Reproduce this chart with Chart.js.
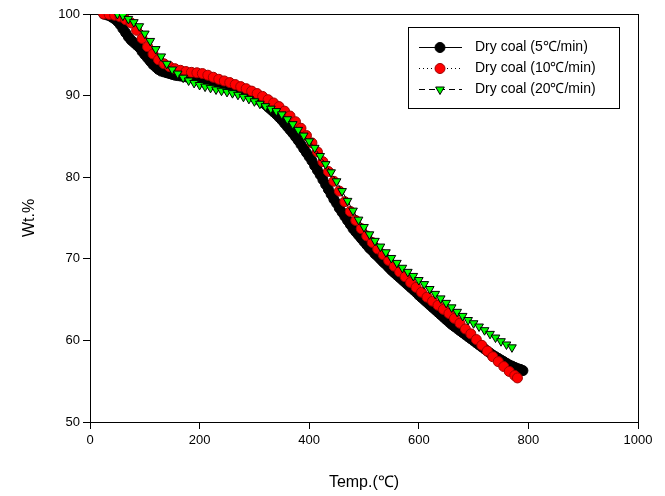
<!DOCTYPE html>
<html>
<head>
<meta charset="utf-8">
<script src="https://cdn.jsdelivr.net/npm/chart.js@4"></script>
<style>
  html, body { margin: 0; padding: 0; background: #fff; }
  #wrap { width: 665px; height: 496px; }
</style>
</head>
<body>
<div id="wrap"><canvas id="tga" width="665" height="496"></canvas></div>
<script>
// Dry coal, 5 C/min
const tempBlack = [25,30,35,40,45,50,55,60,65,70,75,80,85,90,95,100,105,110,115,120,125,130,135,140,145,150,155,160,165,170,175,180,185,190,195,200,205,210,215,220,225,230,235,240,245,250,255,260,265,270,275,280,285,290,295,300,305,310,315,320,325,330,335,340,345,350,355,360,365,370,375,380,385,390,395,400,405,410,415,420,425,430,435,440,445,450,455,460,465,470,475,480,485,490,495,500,505,510,515,520,525,530,535,540,545,550,555,560,565,570,575,580,585,590,595,600,605,610,615,620,625,630,635,640,645,650,655,660,665,670,675,680,685,690,695,700,705,710,715,720,725,730,735,740,745,750,755,760,765,770,775,780,785,790];
const wtBlack = [100.0,99.9,99.8,99.6,99.4,99.1,98.7,98.2,97.7,97.2,96.8,96.5,96.2,95.9,95.4,95.0,94.6,94.2,93.8,93.5,93.2,93.0,92.9,92.8,92.7,92.6,92.5,92.45,92.4,92.35,92.3,92.25,92.2,92.15,92.1,92.05,92.0,91.95,91.9,91.85,91.8,91.7,91.6,91.5,91.4,91.3,91.2,91.1,90.95,90.8,90.65,90.5,90.35,90.2,90.0,89.8,89.6,89.4,89.15,88.9,88.6,88.3,88.0,87.7,87.35,87.0,86.6,86.2,85.8,85.4,84.95,84.5,84.0,83.5,83.0,82.5,82.0,81.4,80.85,80.3,79.7,79.1,78.5,77.9,77.3,76.8,76.2,75.7,75.2,74.7,74.2,73.7,73.3,72.9,72.5,72.1,71.7,71.3,71.0,70.6,70.3,69.95,69.6,69.3,68.95,68.6,68.3,68.0,67.7,67.4,67.1,66.8,66.5,66.2,65.9,65.55,65.25,64.95,64.65,64.35,64.05,63.75,63.45,63.15,62.85,62.55,62.25,61.95,61.7,61.45,61.2,60.95,60.7,60.45,60.2,59.95,59.7,59.45,59.2,58.95,58.7,58.45,58.2,58.0,57.8,57.6,57.4,57.2,57.0,56.85,56.7,56.55,56.45,56.3];

// Dry coal, 10 C/min
const tempRed = [25,35,45,55,65,75,85,95,105,115,125,135,145,155,165,175,185,195,205,215,225,235,245,255,265,275,285,295,305,315,325,335,345,355,365,375,385,395,405,415,425,435,445,455,465,475,485,495,505,515,525,535,545,555,565,575,585,595,605,615,625,635,645,655,665,675,685,695,705,715,725,735,745,755,765,775,780];
const wtRed = [100.0,99.95,99.85,99.65,99.3,98.9,98.0,97.0,96.0,95.1,94.4,93.9,93.55,93.3,93.1,92.95,92.85,92.8,92.7,92.5,92.25,92.0,91.8,91.6,91.35,91.1,90.85,90.55,90.25,89.9,89.5,89.1,88.65,88.1,87.5,86.8,86.0,85.1,84.2,83.1,81.9,80.7,79.5,78.3,77.0,75.8,74.7,73.7,72.8,72.0,71.2,70.5,69.8,69.1,68.4,67.8,67.1,66.5,65.9,65.3,64.8,64.3,63.8,63.3,62.7,62.1,61.4,60.8,60.1,59.4,58.7,58.0,57.4,56.8,56.2,55.7,55.4];

// Dry coal, 20 C/min
const tempGreen = [50,60,70,80,90,100,110,120,130,140,150,160,170,180,190,200,210,220,230,240,250,260,270,280,290,300,310,320,330,340,350,360,370,380,390,400,410,420,430,440,450,460,470,480,490,500,510,520,530,540,550,560,570,580,590,600,610,620,630,640,650,660,670,680,690,700,710,720,730,740,750,760,770];
const wtGreen = [100.0,99.8,99.4,99.0,98.5,97.6,96.7,95.7,94.8,93.9,93.2,92.7,92.2,91.85,91.55,91.3,91.1,90.95,90.75,90.6,90.45,90.3,90.1,89.85,89.6,89.3,89.0,88.7,88.4,88.1,87.7,87.1,86.5,85.8,85.1,84.4,83.6,82.6,81.6,80.6,79.5,78.3,77.1,75.9,74.8,73.9,73.0,72.2,71.5,70.8,70.1,69.5,68.9,68.4,67.9,67.4,66.9,66.3,65.7,65.15,64.6,64.05,63.5,63.0,62.5,62.1,61.7,61.25,60.8,60.35,59.9,59.5,59.15];

const seriesLabels = ['Dry coal (5\u2103/min)', 'Dry coal (10\u2103/min)', 'Dry coal (20\u2103/min)'];
const xTicks = [0, 200, 400, 600, 800, 1000];
const yTicks = [50, 60, 70, 80, 90, 100];

const FONT = '"Liberation Sans", Arial, sans-serif';
const toPoints = (xs, ys) => xs.map((x, i) => ({ x: x, y: ys[i] }));

// frame on top and right like the original plot box
const framePlugin = {
    id: 'frame',
    beforeDatasetsDraw(chart) {
        const a = chart.chartArea, ctx = chart.ctx;
        ctx.save();
        ctx.strokeStyle = '#000';
        ctx.lineWidth = 1;
        ctx.strokeRect(Math.round(a.left) + 0.5, Math.round(a.top) + 0.5,
            Math.round(a.right - a.left), Math.round(a.bottom - a.top));
        ctx.restore();
    }
};

// boxed legend in the upper right
const legendPlugin = {
    id: 'boxLegend',
    afterDraw(chart) {
        const ctx = chart.ctx;
        ctx.save();
        ctx.fillStyle = '#fff';
        ctx.fillRect(408, 27, 211, 81);
        ctx.strokeStyle = '#000';
        ctx.lineWidth = 1;
        ctx.strokeRect(408.5, 27.5, 211, 81);
        const rows = [47, 68, 89];
        chart.data.datasets.forEach((ds, i) => {
            const y = rows[i] + 0.5;
            ctx.strokeStyle = '#000';
            ctx.lineWidth = 1;
            ctx.setLineDash(ds.borderDash || []);
            ctx.beginPath();
            ctx.moveTo(419, y);
            ctx.lineTo(462, y);
            ctx.stroke();
            ctx.setLineDash([]);
            ctx.fillStyle = ds.pointBackgroundColor;
            ctx.strokeStyle = ds.pointBorderColor;
            ctx.lineWidth = ds.pointBorderWidth;
            Chart.helpers.drawPoint(ctx, {
                pointStyle: ds.pointStyle, radius: ds.pointRadius,
                rotation: ds.pointRotation || 0, borderWidth: ds.pointBorderWidth
            }, 440, y);
            ctx.fillStyle = '#000';
            ctx.font = '14px ' + FONT;
            ctx.textBaseline = 'middle';
            ctx.textAlign = 'left';
            ctx.fillText(ds.label, 475, y);
        });
        ctx.restore();
    }
};

new Chart(document.getElementById('tga'), {
    type: 'scatter',
    data: {
        datasets: [
            {
                label: seriesLabels[0],
                data: toPoints(tempBlack, wtBlack),
                showLine: true,
                borderColor: '#000',
                borderWidth: 1,
                pointStyle: 'circle',
                pointRadius: 5,
                pointBackgroundColor: '#000',
                pointBorderColor: '#000',
                pointBorderWidth: 1,
                order: 3
            },
            {
                label: seriesLabels[1],
                data: toPoints(tempRed, wtRed),
                showLine: true,
                borderColor: '#000',
                borderWidth: 1,
                borderDash: [1, 3],
                pointStyle: 'circle',
                pointRadius: 5,
                pointBackgroundColor: '#ff0000',
                pointBorderColor: '#a00000',
                pointBorderWidth: 1,
                order: 2
            },
            {
                label: seriesLabels[2],
                data: toPoints(tempGreen, wtGreen),
                showLine: true,
                borderColor: '#000',
                borderWidth: 1,
                borderDash: [6, 4],
                pointStyle: 'triangle',
                pointRotation: 180,
                pointRadius: 5,
                pointBackgroundColor: '#00ff00',
                pointBorderColor: '#000',
                pointBorderWidth: 1,
                order: 1
            }
        ]
    },
    options: {
        responsive: false,
        animation: false,
        layout: { padding: { left: 20, right: 27, top: 14, bottom: 0 } },
        plugins: {
            legend: { display: false },
            tooltip: { enabled: false }
        },
        scales: {
            x: {
                type: 'linear',
                min: 0,
                max: 1000,
                afterBuildTicks: s => { s.ticks = xTicks.map(v => ({ value: v })); },
                afterFit: s => { s.height = 74; },
                grid: { drawOnChartArea: false, drawTicks: true, tickLength: 7, color: '#000' },
                border: { display: true, color: '#000', width: 1 },
                ticks: { color: '#000', font: { family: FONT, size: 13 }, padding: 4, maxRotation: 0, callback: v => String(v) },
                title: { display: true, text: 'Temp.(\u2103)', color: '#000', font: { family: FONT, size: 16 }, padding: { top: 11 } }
            },
            y: {
                type: 'linear',
                min: 50,
                max: 100,
                afterBuildTicks: s => { s.ticks = yTicks.map(v => ({ value: v })); },
                afterFit: s => { s.width = 70; },
                grid: { drawOnChartArea: false, drawTicks: true, tickLength: 7, color: '#000' },
                border: { display: true, color: '#000', width: 1 },
                ticks: { color: '#000', font: { family: FONT, size: 13 }, padding: 3, callback: v => String(v) },
                title: { display: true, text: 'Wt.%', color: '#000', font: { family: FONT, size: 16 }, padding: 0 }
            }
        }
    },
    plugins: [framePlugin, legendPlugin]
});
</script>
</body>
</html>
